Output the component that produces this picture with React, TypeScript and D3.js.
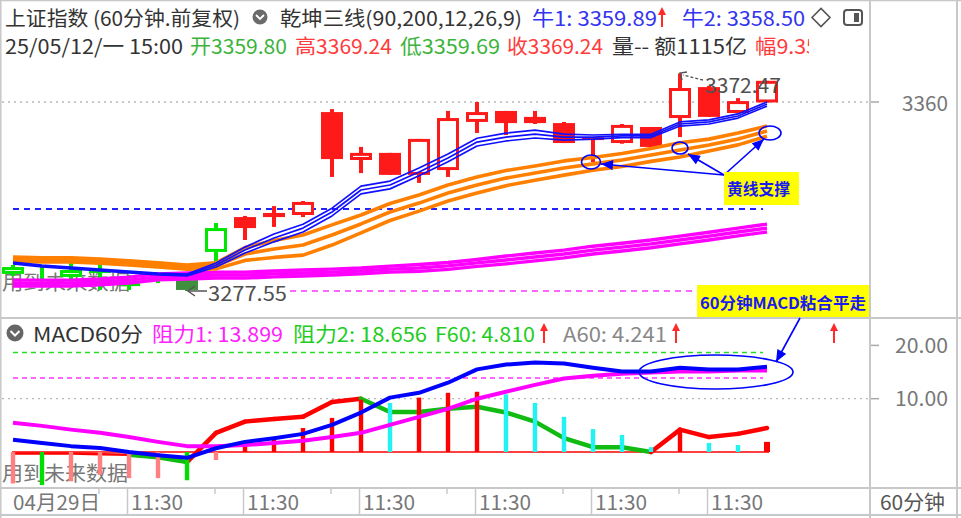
import React from "react";
import * as d3 from "d3";

// ---------------- data ----------------
const timeLabels = ["04月29日", "11:30", "11:30", "11:30", "11:30", "11:30", "11:30"];
const labelIdx = [0, 4, 8, 12, 16, 20, 24];

const opens = [3285.0, 3281.5, 3283.7, 3286.7, 3281.0, 3283.7, 3282.3, 3294.6, 3309.8, 3311.6, 3310.7, 3355.6, 3334.7, 3337.8, 3328.2, 3330.3, 3351.3, 3356.1, 3353.5, 3350.8, 3344.7, 3342.1, 3349.1, 3353.0, 3366.5, 3355.2, 3359.8];
const highs = [3288.9, 3288.5, 3289.8, 3292.0, 3284.5, 3284.5, 3283.7, 3307.2, 3310.3, 3314.6, 3316.8, 3356.9, 3340.4, 3337.8, 3343.9, 3356.1, 3360.0, 3356.1, 3356.1, 3351.3, 3344.7, 3350.4, 3349.1, 3372.47, 3367.0, 3361.7, 3369.24];
const lows = [3284.1, 3279.3, 3282.3, 3278.0, 3278.0, 3281.0, 3277.55, 3286.7, 3299.8, 3305.5, 3309.8, 3327.3, 3329.0, 3328.2, 3324.7, 3327.3, 3346.5, 3345.6, 3350.4, 3342.1, 3333.8, 3341.8, 3339.9, 3344.7, 3353.5, 3355.2, 3359.69];
const closes = [3288.0, 3281.0, 3286.7, 3286.3, 3280.6, 3283.2, 3278.0, 3305.0, 3305.0, 3309.8, 3316.4, 3335.1, 3337.8, 3328.2, 3343.9, 3353.0, 3355.6, 3350.8, 3350.8, 3342.1, 3343.4, 3350.0, 3340.4, 3366.1, 3353.5, 3360.4, 3369.24];
const candleColor = ["g", "g", "g", "g", "g", "g", "d", "g", "r", "r", "r", "r", "r", "r", "r", "r", "r", "r", "r", "r", "r", "r", "r", "r", "r", "r", "r"];

const blueMid = [3289.8, 3288.5, 3287.6, 3286.7, 3285.8, 3285.0, 3284.5, 3288.9, 3295.4, 3300.7, 3305.0, 3312.0, 3321.6, 3323.8, 3329.5, 3335.6, 3342.5, 3344.7, 3346.0, 3344.7, 3344.7, 3345.2, 3345.2, 3350.4, 3351.3, 3353.9, 3359.1];
const blueSpread = [0.4, 0.4, 0.4, 0.4, 0.4, 0.4, 0.4, 0.9, 1.3, 1.7, 1.7, 1.7, 1.7, 1.7, 1.7, 1.7, 1.7, 1.7, 1.7, 1.3, 0.9, 0.7, 0.7, 0.9, 0.9, 0.9, 0.9];
const orangeMid = [3291.5, 3291.1, 3291.1, 3290.6, 3289.8, 3288.9, 3288.0, 3288.5, 3293.7, 3295.9, 3297.6, 3302.0, 3306.8, 3312.0, 3315.9, 3320.3, 3323.8, 3326.8, 3329.0, 3331.2, 3333.0, 3334.7, 3336.9, 3339.1, 3341.2, 3343.9, 3347.3];
const orangeSpread = [0.9, 0.9, 0.9, 0.9, 0.9, 0.9, 0.9, 1.3, 2.8, 3.7, 4.4, 4.4, 3.9, 3.7, 3.5, 3.5, 3.5, 3.3, 3.1, 3.1, 2.8, 2.8, 2.8, 3.1, 2.6, 2.6, 2.2];
const magentaMid = [3281.0, 3281.0, 3281.0, 3281.5, 3282.3, 3283.7, 3284.1, 3284.5, 3284.5, 3285.0, 3285.4, 3285.8, 3286.3, 3287.1, 3287.6, 3288.5, 3289.8, 3291.1, 3292.4, 3293.7, 3295.4, 3296.7, 3298.1, 3299.8, 3301.5, 3303.3, 3305.0];
const magentaSpread = [1.3, 1.3, 1.3, 1.3, 1.3, 1.3, 1.3, 1.3, 1.3, 1.3, 1.3, 1.3, 1.3, 1.3, 1.5, 1.5, 1.5, 1.7, 1.7, 1.7, 1.7, 1.7, 1.7, 1.7, 1.7, 1.7, 1.7];

const supportLevel = 3313.3;
const lowValue = 3277.55;
const highValue = 3372.47;
const priceTick = 3360;

const dif = [2.3, 1.7, 1.1, 0.75, 0, -0.6, -1.1, 0.7, 1.9, 2.6, 3.4, 5.1, 7.4, 10.2, 11.1, 13.0, 15.5, 16.4, 16.8, 16.6, 15.8, 15.1, 15.1, 15.8, 15.5, 15.5, 16.0];
const dea = [5.5, 4.9, 4.2, 3.6, 2.8, 1.9, 1.1, 1.1, 1.3, 1.7, 2.1, 2.8, 3.6, 5.1, 6.6, 8.1, 10.0, 11.3, 12.6, 13.8, 14.3, 14.7, 14.9, 15.1, 15.1, 15.3, 15.3];
const fLine = [-0.3, -0.3, -0.3, -0.4, -0.5, -1.0, -1.9, 3.6, 5.7, 6.2, 6.6, 9.4, 10.0, 7.5, 7.5, 8.1, 8.5, 7.4, 5.7, 2.6, 0.9, 0.9, 0, 4.2, 2.8, 3.4, 4.5];
const fColor = "rrrrggrrrrrrggggggggggrrrr";
const hist = [-5.9, -6.2, -5.5, -4.3, -4.9, -4.9, -5.3, -1.5, 1.3, 2.8, 4.5, 6.4, 9.8, 9.2, 10.2, 11.1, 11.3, 10.8, 9.2, 6.6, 4.3, 3.2, 0.9, 4.2, 1.7, 1.3, 1.9];
const histColor = ["p", "g", "p", "p", "p", "p", "g", "p", "r", "r", "r", "r", "r", "c", "r", "r", "r", "c", "c", "c", "c", "c", "c", "r", "c", "c", "r"];
const resist1 = 13.899;
const resist2 = 18.656;
const macdTicks = [20, 10];

// ---------------- drawing ----------------
const FONT = "'Noto Sans CJK SC','Noto Sans',sans-serif";
const RED = "#ff1a1a";
const GREEN = "#00e600";
const DKGREEN = "#3f8f3f";
const GRID = "#c8c8c8";

const x = d3.scaleLinear().domain([0, 26]).range([13, 767]);
const y = d3.scaleLinear().domain([lowValue, priceTick]).range([291, 102]);
const ym = d3.scaleLinear().domain([0, 10]).range([452, 398.7]);

const lineP = d3.line<number>().x((_, i) => x(i)).y((v) => y(v));
const lineM = d3.line<number>().x((_, i) => x(i)).y((v) => ym(v));

function Txt(props: any) {
  const { x: tx, y: ty, children, fill = "#333", size = 20, len, weight, anchor = "start" } = props;
  return (
    <text
      x={tx}
      y={ty}
      fill={fill}
      fontSize={size}
      fontFamily={FONT}
      fontWeight={weight}
      textAnchor={anchor}
      dominantBaseline="central"
      textLength={len}
      lengthAdjust={len ? "spacingAndGlyphs" : undefined}
    >
      {children}
    </text>
  );
}

function UpArrow({ cx, top, bottom }: { cx: number; top: number; bottom: number }) {
  return (
    <g>
      <line x1={cx} x2={cx} y1={top + 5} y2={bottom} stroke="#ff2a2a" strokeWidth={2} />
      <path d={`M${cx - 4},${top + 8} L${cx},${top} L${cx + 4},${top + 8} Z`} fill="#ff2a2a" />
    </g>
  );
}

function Candles() {
  const w = 22;
  return (
    <g>
      {opens.map((o, i) => {
        const c = closes[i];
        const col = candleColor[i] === "r" ? RED : candleColor[i] === "d" ? DKGREEN : GREEN;
        const cx = x(i);
        const yTop = y(Math.max(o, c));
        const yBot = y(Math.min(o, c));
        const hollow = c > o;
        const h = Math.max(yBot - yTop, 3);
        return (
          <g key={i}>
            <rect x={cx - 2} y={y(highs[i])} width={4} height={Math.max(y(lows[i]) - y(highs[i]), 1)} fill={col} />
            {hollow ? (
              <rect x={cx - w / 2 + 1.5} y={yTop + 1.5} width={w - 3} height={Math.max(h - 3, 0.5)} fill="#fff" stroke={col} strokeWidth={3} />
            ) : (
              <rect x={cx - w / 2} y={yTop} width={w} height={h} fill={col} />
            )}
          </g>
        );
      })}
    </g>
  );
}

function Band({ mid, spread, color, width }: { mid: number[]; spread: number[]; color: string; width: number }) {
  return (
    <g fill="none" stroke={color} strokeWidth={width} strokeLinejoin="round">
      {[1, 0, -1].map((s) => (
        <path key={s} d={lineP(mid.map((m, i) => m + s * spread[i])) || ""} />
      ))}
    </g>
  );
}

export default function App() {
  const histCol: Record<string, string> = { r: "#ff0000", c: "#22f2f2", p: "#ff8080", g: "#00dd00" };
  return (
    <svg width={961} height={518} style={{ position: "absolute", left: 0, top: 0, background: "#fff" }}>
      <defs>
        <marker id="ah" viewBox="0 0 12 10" refX="12" refY="5" markerWidth="13" markerHeight="10" markerUnits="userSpaceOnUse" orient="auto">
          <path d="M0,0 L12,5 L0,10 Z" fill="#0000ff" />
        </marker>
        <clipPath id="hdrclip">
          <rect x={0} y={0} width={809} height={60} />
        </clipPath>
      </defs>
      <rect x={0} y={0} width={961} height={518} fill="#fff" />

      {/* frame */}
      <line x1={0} x2={961} y1={0.5} y2={0.5} stroke={GRID} strokeWidth={1.5} />
      <line x1={0.8} x2={0.8} y1={0} y2={518} stroke={GRID} strokeWidth={1.5} />
      <line x1={870} x2={870} y1={0} y2={518} stroke={GRID} strokeWidth={2} />
      <line x1={957} x2={957} y1={0} y2={518} stroke={GRID} strokeWidth={2} />
      <line x1={0} x2={961} y1={318} y2={318} stroke={GRID} strokeWidth={2} />
      <line x1={0} x2={961} y1={488} y2={488} stroke={GRID} strokeWidth={2} />
      <line x1={0} x2={961} y1={515} y2={515} stroke={GRID} strokeWidth={2} />

      {/* header row 1 */}
      <Txt x={5} y={17} len={235}>上证指数 (60分钟.前复权)</Txt>
      <circle cx={260} cy={17} r={7.5} fill="#6b6b6b" />
      <path d="M256,15 L260,19 L264,15" stroke="#fff" strokeWidth={1.8} fill="none" />
      <Txt x={280} y={17} len={242}>乾坤三线(90,200,12,26,9)</Txt>
      <Txt x={532} y={17} len={125} fill="#3434f0">牛1: 3359.89</Txt>
      <UpArrow cx={662} top={7} bottom={27} />
      <Txt x={682} y={17} len={123} fill="#3434f0">牛2: 3358.50</Txt>
      <path d="M812,17.5 L821,8.5 L830,17.5 L821,26.5 Z" stroke="#555" strokeWidth={1.6} fill="none" />
      <rect x={844} y={10} width={18} height={15} rx={3} stroke="#555" strokeWidth={2} fill="none" />
      <rect x={854} y={13} width={5} height={9} fill="#555" />

      {/* header row 2 */}
      <g clipPath="url(#hdrclip)">
        <Txt x={5} y={45} len={178}>25/05/12/一 15:00</Txt>
        <Txt x={190} y={45} len={97} fill="#3cb43c">开3359.80</Txt>
        <Txt x={295} y={45} len={97} fill="#ff3b3b">高3369.24</Txt>
        <Txt x={400} y={45} len={100} fill="#3cb43c">低3359.69</Txt>
        <Txt x={507} y={45} len={96} fill="#ff3b3b">收3369.24</Txt>
        <Txt x={612} y={45} len={135}>量-- 额1115亿</Txt>
        <Txt x={755} y={45} len={63} fill="#ff3b3b">幅9.35</Txt>
      </g>

      {/* main panel */}
      <line x1={2} x2={868} y1={y(priceTick)} y2={y(priceTick)} stroke="#b8b8b8" strokeWidth={1.3} strokeDasharray="2 4" />
      <Txt x={2} y={281} fill="#777" len={128}>用到未来数据</Txt>
      <line x1={x(0)} x2={x(26) - 4} y1={y(supportLevel)} y2={y(supportLevel)} stroke="#2222ff" strokeWidth={2} strokeDasharray="6 5" />
      <line x1={290} x2={x(26)} y1={y(lowValue)} y2={y(lowValue)} stroke="#ff33ff" strokeWidth={1.6} strokeDasharray="6 5" />
      <Candles />
      <Band mid={magentaMid} spread={magentaSpread} color="#ff00ff" width={3.4} />
      <Band mid={orangeMid} spread={orangeSpread} color="#ff8000" width={3.6} />
      <Band mid={blueMid} spread={blueSpread} color="#1010ff" width={1.7} />

      {/* high / low labels */}
      <line x1={703} x2={683} y1={80} y2={75} stroke="#555" strokeWidth={1.3} strokeDasharray="3 2" />
      <path d="M682,80 L680,73 L687,72" stroke="#555" strokeWidth={1.5} fill="none" />
      <Txt x={705} y={84.5} fill="#505050" len={76}>{highValue.toFixed(2)}</Txt>
      <line x1={188} x2={207} y1={y(lowValue)} y2={y(lowValue)} stroke="#555" strokeWidth={1.5} />
      <path d={`M195,${y(lowValue) - 5} L188,${y(lowValue)} L195,${y(lowValue) + 5}`} stroke="#555" strokeWidth={1.5} fill="none" />
      <Txt x={208} y={292} fill="#505050" len={79}>{lowValue.toFixed(2)}</Txt>

      {/* annotations main */}
      <g stroke="#0000ff" strokeWidth={1.6} fill="none">
        <ellipse cx={591} cy={162} rx={9.5} ry={7} />
        <ellipse cx={680} cy={148} rx={8} ry={6} />
        <ellipse cx={770} cy={133} rx={11} ry={7} />
        <line x1={724} y1={175} x2={601} y2={164} markerEnd="url(#ah)" />
        <line x1={724} y1={175} x2={688} y2={154} markerEnd="url(#ah)" />
        <line x1={724} y1={175} x2={764} y2={139} markerEnd="url(#ah)" />
      </g>
      <rect x={724} y={172} width={75} height={33} fill="#ffff00" />
      <Txt x={727} y={188} fill="#1a1aee" size={16} weight="bold" len={63}>黄线支撑</Txt>
      <rect x={697} y={285} width={172} height={32} fill="#ffff00" />
      <Txt x={700} y={301.5} fill="#1a1aee" size={16} weight="bold" len={166}>60分钟MACD粘合平走</Txt>

      {/* right axis */}
      <line x1={871} x2={879} y1={y(priceTick)} y2={y(priceTick)} stroke="#aaa" strokeWidth={1.5} />
      <Txt x={902} y={102} fill="#777" len={46}>{String(priceTick)}</Txt>
      {macdTicks.map((t) => (
        <g key={t}>
          <line x1={871} x2={879} y1={ym(t)} y2={ym(t)} stroke="#aaa" strokeWidth={1.5} />
          <Txt x={895} y={ym(t) - 1} fill="#777" len={53}>{t.toFixed(2)}</Txt>
        </g>
      ))}

      {/* MACD header */}
      <circle cx={15} cy={333} r={8.5} fill="#666" />
      <path d="M10.5,331 L15,335.5 L19.5,331" stroke="#fff" strokeWidth={2} fill="none" />
      <Txt x={33} y={333} len={110}>MACD60分</Txt>
      <Txt x={152} y={333} len={131} fill="#ff22ff">阻力1: {resist1.toFixed(3)}</Txt>
      <Txt x={293} y={333} len={134} fill="#22cc22">阻力2: {resist2.toFixed(3)}</Txt>
      <Txt x={435} y={333} len={100} fill="#22cc22">F60: 4.810</Txt>
      <UpArrow cx={544} top={323} bottom={343} />
      <Txt x={563} y={333} len={104} fill="#888">A60: 4.241</Txt>
      <UpArrow cx={676} top={323} bottom={343} />
      <UpArrow cx={834} top={323} bottom={343} />

      {/* MACD panel */}
      <line x1={x(0)} x2={x(26) - 4} y1={ym(resist2)} y2={ym(resist2)} stroke="#22dd22" strokeWidth={1.5} strokeDasharray="5 4" />
      <line x1={x(0)} x2={x(26) - 4} y1={ym(resist1)} y2={ym(resist1)} stroke="#ff33ff" strokeWidth={1.5} strokeDasharray="5 4" />
      <line x1={2} x2={868} y1={ym(10)} y2={ym(10)} stroke="#b8b8b8" strokeWidth={1.3} strokeDasharray="2 4" />
      <Txt x={2} y={472} fill="#777" len={126}>用到未来数据</Txt>
      <line x1={x(0) - 1} x2={x(26) + 2} y1={ym(0)} y2={ym(0)} stroke="#ff0000" strokeWidth={1.6} />
      {fLine.slice(0, -1).map((v, i) => (
        <line
          key={i}
          x1={x(i)}
          x2={x(i + 1)}
          y1={ym(v)}
          y2={ym(fLine[i + 1])}
          stroke={fColor[i] === "r" ? "#ff0000" : "#11bb11"}
          strokeWidth={i < 4 ? 2.5 : 4.5}
          strokeLinecap="round"
        />
      ))}
      {hist.map((v, i) => (
        <rect
          key={i}
          x={x(i) - (i === 26 ? 3 : 2.2)}
          y={Math.min(ym(v), ym(0))}
          width={i === 26 ? 6 : 4.4}
          height={Math.abs(ym(v) - ym(0))}
          fill={histCol[histColor[i]]}
        />
      ))}
      <path d={lineM(dea) || ""} fill="none" stroke="#ff00ff" strokeWidth={4} strokeLinejoin="round" />
      <path d={lineM(dif) || ""} fill="none" stroke="#0000ff" strokeWidth={4} strokeLinejoin="round" />
      <ellipse cx={716} cy={372} rx={77} ry={17} fill="none" stroke="#0000ff" strokeWidth={1.6} />
      <line x1={800} y1={318} x2={776} y2={362} stroke="#0000ff" strokeWidth={1.6} markerEnd="url(#ah)" />

      {/* x axis */}
      {labelIdx.map((li, k) => (
        <g key={k}>
          {k > 0 && <line x1={x(li) - 1.5} x2={x(li) - 1.5} y1={488} y2={515} stroke={GRID} strokeWidth={1.5} />}
          {k > 0 && <line x1={x(li) - 30} x2={x(li) - 30} y1={488} y2={494} stroke={GRID} strokeWidth={1.5} />}
          <Txt x={k === 0 ? 13 : x(li) + 2} y={501} fill="#777" len={k === 0 ? 87 : 52}>{timeLabels[k]}</Txt>
        </g>
      ))}
      <Txt x={880} y={501} fill="#555" len={65}>60分钟</Txt>
    </svg>
  );
}
